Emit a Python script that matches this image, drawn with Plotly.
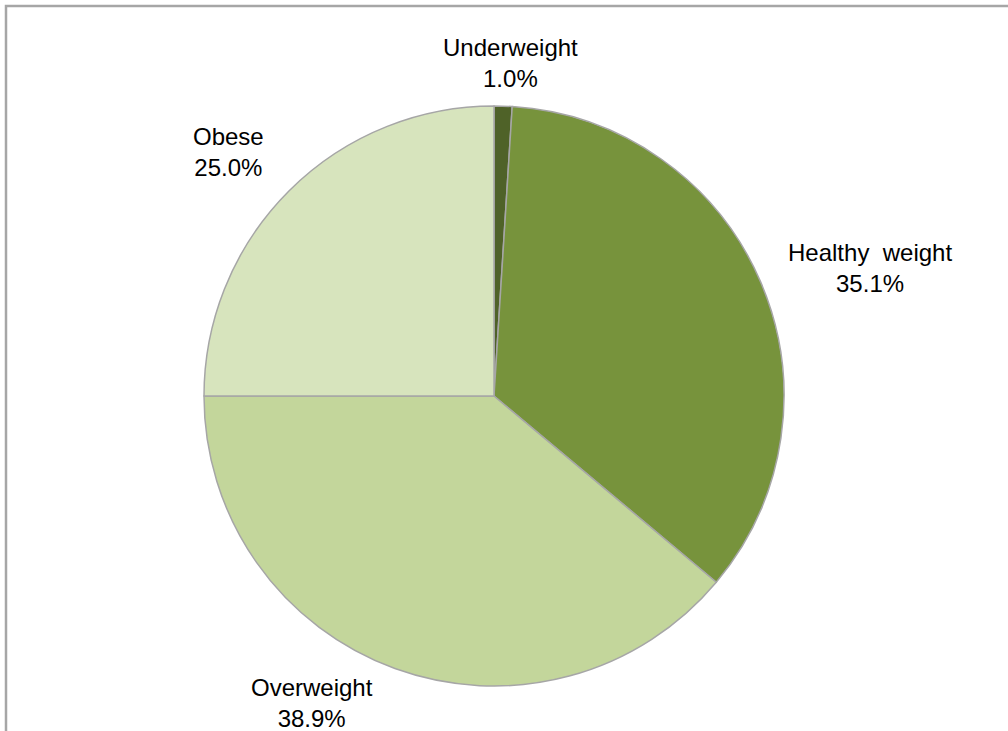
import plotly.graph_objects as go

# Weight status distribution
categories = ["Underweight", "Healthy weight", "Overweight", "Obese"]
shares = [1.0, 35.1, 38.9, 25.0]
slice_colors = ["#4F6228", "#77933C", "#C3D69B", "#D7E4BD"]

# Label anchor points in pixels (x, y from top), one per category
label_px = [(510, 63), (870, 268), (312, 703), (228, 152)]

W, H = 1008, 731
cx, cy, r = 494, 396, 290  # pie centre and radius in pixels

fig = go.Figure(
    go.Pie(
        labels=categories,
        values=shares,
        sort=False,
        direction="clockwise",
        rotation=0,
        textinfo="none",
        hoverinfo="label+percent",
        marker=dict(colors=slice_colors, line=dict(color="#A6A6A6", width=1.5)),
        domain=dict(x=[(cx - r) / W, (cx + r) / W], y=[(H - cy - r) / H, (H - cy + r) / H]),
        showlegend=False,
    )
)

for name, val, (px, py) in zip(categories, shares, label_px):
    name_txt = name.replace(" ", "  ")
    fig.add_annotation(
        x=px / W, y=1 - py / H, xref="paper", yref="paper",
        text=f"{name_txt}<br>{val:.1f}%",
        showarrow=False, xanchor="center", yanchor="middle", align="center",
        font=dict(family="Liberation Sans, Arial, sans-serif", size=24, color="#000000"),
    )

# Chart-area frame (runs off the right and bottom edges)
fig.add_shape(
    type="rect", xref="paper", yref="paper",
    x0=6 / W, x1=1.05, y0=-0.05, y1=1 - 6 / H,
    line=dict(color="#A6A6A6", width=2.5), fillcolor="rgba(0,0,0,0)", layer="above",
)

fig.update_layout(
    width=W, height=H,
    margin=dict(l=0, r=0, t=0, b=0),
    paper_bgcolor="white", plot_bgcolor="white",
)

fig.write_html("out.html")
